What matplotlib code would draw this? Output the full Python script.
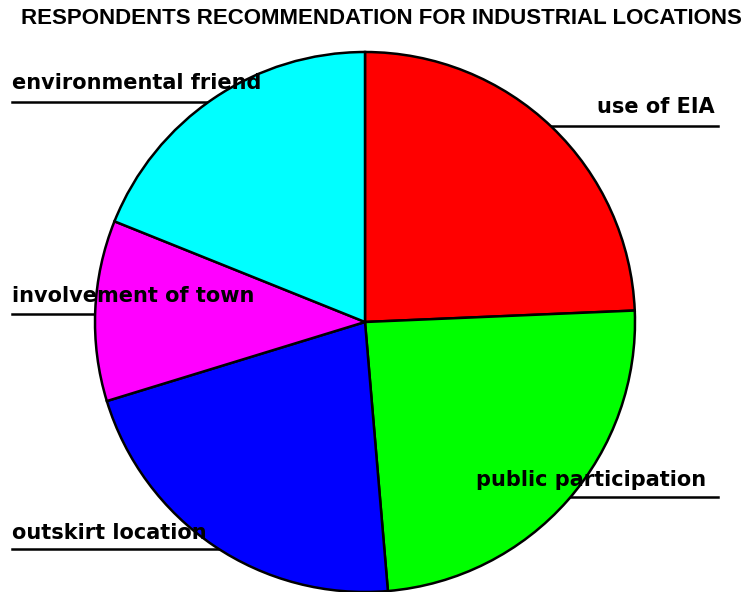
import matplotlib
matplotlib.use("Agg")
import matplotlib.pyplot as plt

# respondents per recommendation
labels = ["use of EIA", "public participation", "outskirt location",
          "involvement of town", "environmental friend"]
counts = [9, 9, 8, 4, 7]
colours = ["#ff0000", "#00ff00", "#0000ff", "#ff00ff", "#00ffff"]

# label text position (left x, baseline y) and underline span, in pixels from top-left
label_pos = [(597, 113), (476, 486), (12, 539), (12, 302), (12, 89)]
line_pos = [(550, 718, 126), (540, 718, 497), (12, 260, 549), (12, 200, 314), (12, 260, 102)]

W, H = 742, 592
fig = plt.figure(figsize=(W / 100, H / 100), dpi=100)
ax = fig.add_axes([0, 0, 1, 1])

# leader lines go underneath the pie
for x0, x1, y in line_pos:
    ax.plot([x0, x1], [H - y, H - y], color="black", lw=1.8, zorder=1)

ax.pie(counts, colors=colours, startangle=90, counterclock=False,
       center=(365, H - 322), radius=270, frame=True,
       wedgeprops=dict(edgecolor="black", linewidth=1.8, zorder=2))
ax.set_xlim(0, W)
ax.set_ylim(0, H)
ax.set_aspect("equal")
ax.axis("off")

for lab, (x, y) in zip(labels, label_pos):
    ax.text(x, H - y, lab, fontsize=15, fontweight="heavy", family="DejaVu Sans",
            ha="left", va="baseline", zorder=5)

ax.text(381, H - 19, "RESPONDENTS RECOMMENDATION FOR INDUSTRIAL LOCATIONS",
        fontsize=16, fontweight="bold", family="Liberation Sans",
        ha="center", va="center", zorder=5)

fig.savefig("out.png", dpi=100)
